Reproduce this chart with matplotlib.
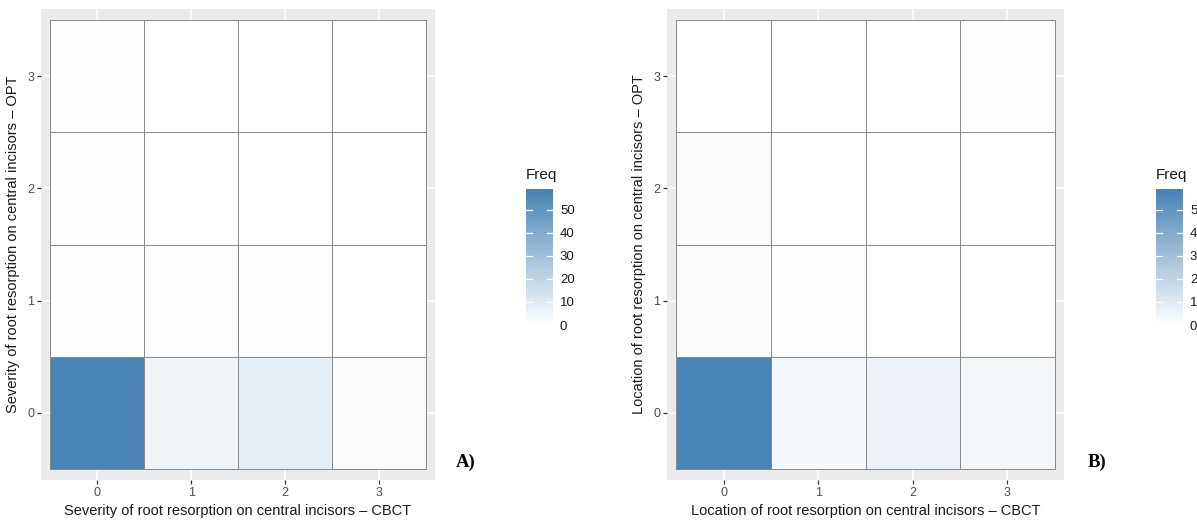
import numpy as np
import matplotlib
matplotlib.use("Agg")
import matplotlib.pyplot as plt
from matplotlib.colors import LinearSegmentedColormap

# Data: rows = OPT score (0..3), cols = CBCT score (0..3)
scores = [0, 1, 2, 3]
severity_freq = [
    [58, 5, 8, 2],   # OPT 0
    [1, 1, 1, 0],    # OPT 1
    [1, 0, 0, 0],    # OPT 2
    [1, 0, 0, 0],    # OPT 3
]
location_freq = [
    [58, 3, 6, 4],   # OPT 0
    [2, 1, 0, 0],    # OPT 1
    [2, 0, 0, 0],    # OPT 2
    [0, 0, 0, 1],    # OPT 3
]
cbar_ticks = [0, 10, 20, 30, 40, 50]

FREQ_MAX = 59
cmap = LinearSegmentedColormap.from_list("wb", ["#FFFFFF", "#4682B4"])

W, H = 1197, 521
fig = plt.figure(figsize=(W / 100, H / 100), dpi=100)
plt.rcParams["font.family"] = ["Liberation Sans", "DejaVu Sans"]


def box(x0, y0, x1, y1):
    # pixel box (top-left origin) -> figure fraction rect
    return [x0 / W, (H - y1) / H, (x1 - x0) / W, (y1 - y0) / H]


def draw_panel(rect, cbar_rect, freq, xlabel, ylabel, tag, tag_xy):
    ax = fig.add_axes(box(*rect))
    ax.set_facecolor("#EBEBEB")
    for s in ax.spines.values():
        s.set_visible(False)
    for v in scores:
        ax.axvline(v, color="white", lw=1.1, zorder=0)
        ax.axhline(v, color="white", lw=1.1, zorder=0)
    edges = np.arange(len(scores) + 1) - 0.5
    mesh = ax.pcolormesh(edges, edges, np.array(freq), cmap=cmap, vmin=0, vmax=FREQ_MAX,
                         edgecolors="#8a8a8a", linewidth=0.6, zorder=1)
    ax.set_xlim(-0.6, 3.6)
    ax.set_ylim(-0.6, 3.6)
    ax.set_xticks(scores)
    ax.set_yticks(scores)
    ax.tick_params(length=3, width=0.9, color="#333333", labelcolor="#4D4D4D",
                   labelsize=9, pad=2)
    ax.set_xlabel(xlabel, fontsize=10.5, color="#1A1A1A", labelpad=4)
    ax.set_ylabel(ylabel, fontsize=10.5, color="#1A1A1A", labelpad=5)

    cax = fig.add_axes(box(*cbar_rect))
    cb = fig.colorbar(mesh, cax=cax, ticks=cbar_ticks)
    cb.outline.set_visible(False)
    cax.tick_params(length=0, labelsize=9.5, labelcolor="#1A1A1A", pad=5)
    for t in cbar_ticks:
        cax.plot([0, 0.22], [t, t], color="white", lw=0.9, transform=cax.get_yaxis_transform())
        cax.plot([0.78, 1.0], [t, t], color="white", lw=0.9, transform=cax.get_yaxis_transform())
    cax.set_title("Freq", fontsize=11, color="#1A1A1A", loc="left", pad=7)

    fig.text(tag_xy[0] / W, 1 - tag_xy[1] / H, tag, fontsize=13.5, fontweight="bold",
             family=["Liberation Serif", "DejaVu Serif"], ha="center", va="center")


draw_panel((41, 9, 435, 480), (526, 189, 553, 325), severity_freq,
           "Severity of root resorption on central incisors \u2013 CBCT",
           "Severity of root resorption on central incisors \u2013 OPT",
           "A)", (466, 462))
draw_panel((667, 9, 1064, 480), (1156, 189, 1183, 325), location_freq,
           "Location of root resorption on central incisors \u2013 CBCT",
           "Location of root resorption on central incisors \u2013 OPT",
           "B)", (1097, 462))

fig.savefig("out.png", dpi=100)
